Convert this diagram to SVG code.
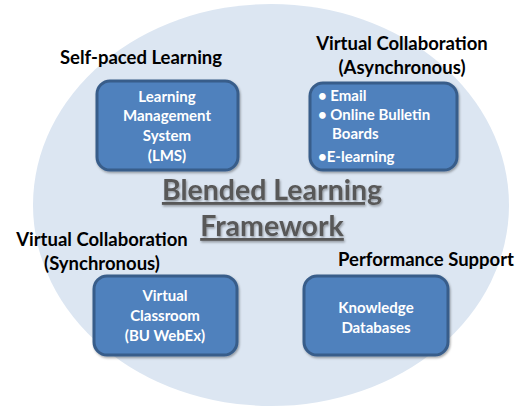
<svg xmlns="http://www.w3.org/2000/svg" width="526" height="408" viewBox="0 0 526 408">
<defs>
<style>
.lbl{font-family:Lato,"Open Sans","Liberation Sans",sans-serif;font-weight:700;font-size:18.5px;fill:#000;text-anchor:middle}
.box{fill:#4f81bd;stroke:#385d8a;stroke-width:3}
.bt{font-family:Lato,"Open Sans","Liberation Sans",sans-serif;font-weight:700;font-size:15px;fill:#fff;text-anchor:middle}
.bl{font-family:Lato,"Open Sans","Liberation Sans",sans-serif;font-weight:700;font-size:15px;fill:#fff}
.title{font-family:Lato,"Open Sans","Liberation Sans",sans-serif;font-weight:700;font-size:28.5px;fill:#595959;text-anchor:middle;text-decoration:underline}
</style>
<filter id="sh" x="-10%" y="-10%" width="120%" height="130%">
<feDropShadow dx="1" dy="1.5" stdDeviation="0.8" flood-color="#000" flood-opacity="0.35"/>
</filter>
</defs>
<rect width="526" height="408" fill="#fff"/>
<g id="background">
<ellipse cx="271" cy="205" rx="238" ry="201" fill="#dce6f2"/>
</g>
<g id="title">
<text class="title" x="272" y="200" filter="url(#sh)">Blended Learning</text>
<text class="title" x="272" y="236" filter="url(#sh)">Framework</text>
</g>
<g id="connectors"></g>
<g id="lms">
<text class="lbl" x="141" y="64">Self-paced Learning</text>
<rect class="box" x="97" y="81" width="141" height="89" rx="13" filter="url(#sh)"/>
<text class="bt" x="167" y="102">Learning</text>
<text class="bt" x="167" y="121">Management</text>
<text class="bt" x="167" y="141">System</text>
<text class="bt" x="167" y="161">(LMS)</text>
</g>
<g id="async">
<text class="lbl" x="402" y="50">Virtual Collaboration</text>
<text class="lbl" x="402" y="74">(Asynchronous)</text>
<rect class="box" x="310" y="83" width="147" height="87" rx="13" filter="url(#sh)"/>
<text class="bl" x="318" y="101">• Email</text>
<text class="bl" x="318" y="120">• Online Bulletin</text>
<text class="bl" x="332" y="139">Boards</text>
<text class="bl" x="318" y="162">•E-learning</text>
</g>
<g id="sync">
<text class="lbl" x="102" y="246">Virtual Collaboration</text>
<text class="lbl" x="102" y="270">(Synchronous)</text>
<rect class="box" x="94" y="276" width="143" height="79" rx="13" filter="url(#sh)"/>
<text class="bt" x="165" y="301">Virtual</text>
<text class="bt" x="165" y="321">Classroom</text>
<text class="bt" x="165" y="341">(BU WebEx)</text>
</g>
<g id="performance">
<text class="lbl" x="426" y="266">Performance Support</text>
<rect class="box" x="304" y="276" width="144" height="79" rx="13" filter="url(#sh)"/>
<text class="bt" x="376" y="313">Knowledge</text>
<text class="bt" x="376" y="333">Databases</text>
</g>
</svg>
